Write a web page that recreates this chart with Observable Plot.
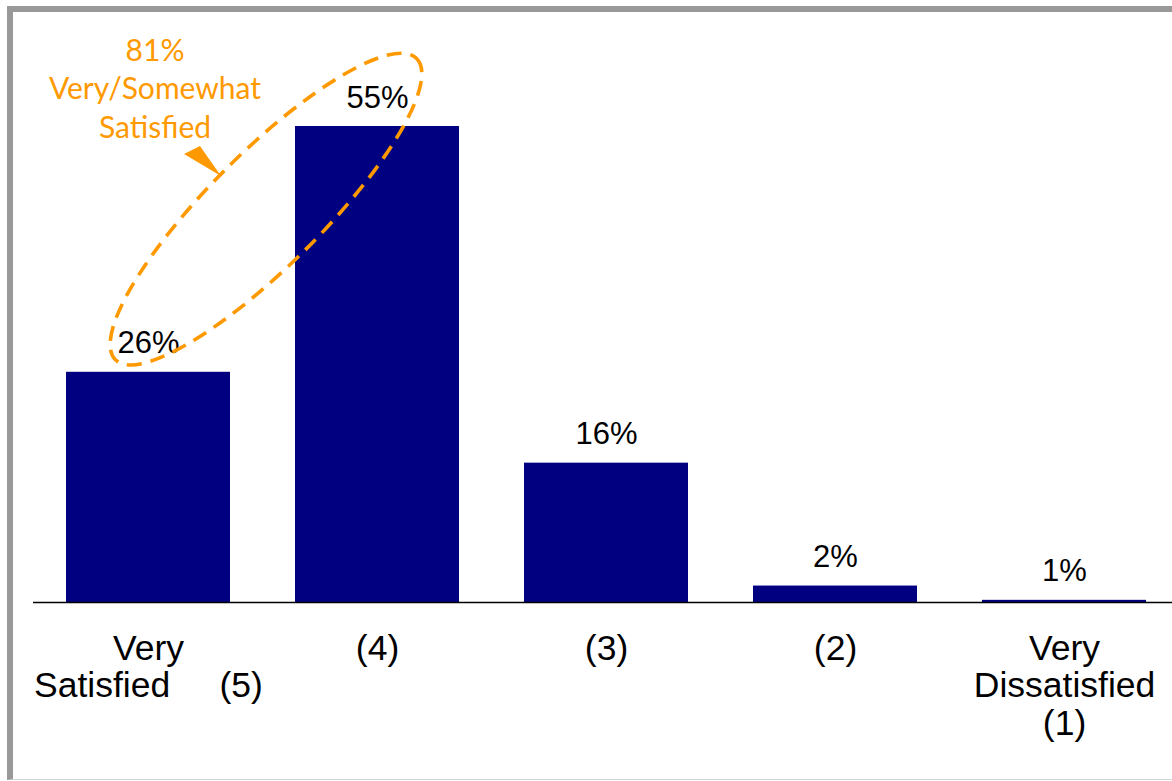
<!DOCTYPE html>
<html>
<head>
<meta charset="utf-8">
<script src="https://cdn.jsdelivr.net/npm/d3@7"></script>
<script src="https://cdn.jsdelivr.net/npm/@observablehq/plot@0.6"></script>
<style>
  html, body { margin: 0; padding: 0; background: #fff; overflow: hidden; }
  #wrap { position: relative; width: 1172px; height: 781px; overflow: hidden; }
  #frame { position: absolute; left: 7px; top: 6px; width: 1300px; height: 767px;
           border-left: 6px solid #999; border-top: 6px solid #999; border-bottom: 1px solid #d4d4d4; }
  #chart { position: absolute; left: 0; top: 0; }
</style>
</head>
<body>
<div id="wrap">
  <div id="frame"></div>
  <div id="chart"></div>
</div>
<script>
// ---- data ----
const categories = ["Very Satisfied (5)", "(4)", "(3)", "(2)", "Very Dissatisfied (1)"];
const tickLabels = ["Very\nSatisfied\u00a0\u00a0\u00a0\u00a0 (5)", "(4)", "(3)", "(2)", "Very\nDissatisfied\n(1)"];
const values = [26.6, 55, 16.1, 1.9, 0.25];
const valueLabels = ["26%", "55%", "16%", "2%", "1%"];
const annotationLines = ["81%", "Very/Somewhat", "Satisfied"];

const rows = categories.map((c, i) => ({cat: c, value: values[i], label: valueLabels[i]}));
const annotation = [{cat: categories[0], text: annotationLines.join("\n")}];

const ORANGE = "#FF9900";

function ellipseMark(index, scales) {
  const x = scales.x, y = scales.y;
  const bw = x.bandwidth ? x.bandwidth() : 0;
  const cx = (x(categories[0]) + x(categories[1])) / 2 + bw / 2 + 3.5;
  const cy = y(45.4);
  const g = d3.create("svg:g");
  g.append("ellipse")
    .attr("cx", cx).attr("cy", cy)
    .attr("rx", 213).attr("ry", 56.6)
    .attr("transform", `rotate(-45 ${cx} ${cy})`)
    .attr("fill", "none")
    .attr("stroke", ORANGE)
    .attr("stroke-width", 3.6)
    .attr("stroke-dasharray", "15 9");
  g.append("polygon")
    .attr("points", [[cx - 82, cy - 55], [cx - 66, cy - 63], [cx - 45, cy - 33]].map(p => p.join(",")).join(" "))
    .attr("fill", ORANGE);
  return g.node();
}

const chart = Plot.plot({
  width: 1172,
  height: 781,
  marginLeft: 33,
  marginRight: 0,
  marginTop: 126,
  marginBottom: 179,
  style: {background: "transparent", fontFamily: "'Liberation Sans', Arial, sans-serif", color: "#000"},
  x: {domain: categories, paddingInner: 0.2854, paddingOuter: 0.1242, align: 0.561, label: null},
  y: {domain: [0, 55], axis: null},
  marks: [
    Plot.barY(rows, {x: "cat", y: "value", fill: "#000080"}),
    Plot.ruleY([0], {stroke: "#000", strokeWidth: 1.3}),
    Plot.text(rows, {x: "cat", y: "value", text: "label", lineAnchor: "bottom", dy: -19, fontSize: 31, fill: "#000"}),
    Plot.axisX({tickSize: 0, tickPadding: 31, fontSize: 35.5, lineHeight: 1.05, fill: "#000",
                tickFormat: d => tickLabels[categories.indexOf(d)]}),
    ellipseMark,
    Plot.text(annotation, {x: "cat", y: () => 65.8, text: "text", lineAnchor: "top", dx: 6.5,
                           fontSize: 30, lineHeight: 1.29, fill: ORANGE, fontFamily: "Lato, 'Open Sans', sans-serif"})
  ]
});
document.getElementById("chart").appendChild(chart);
</script>
</body>
</html>
